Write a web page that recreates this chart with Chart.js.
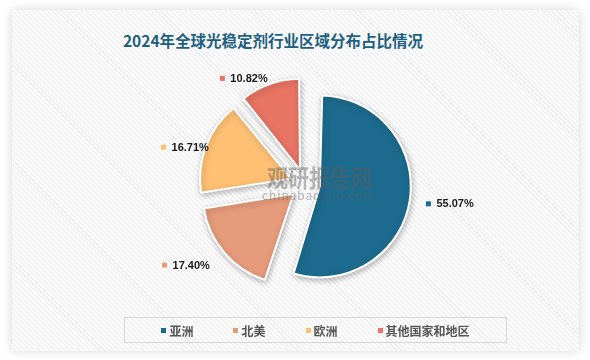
<!DOCTYPE html>
<html>
<head>
<meta charset="utf-8">
<script src="https://cdn.jsdelivr.net/npm/chart.js@4.4.1/dist/chart.umd.min.js"></script>
<style>
body { margin: 0; background: #fff; font-family: "Noto Sans CJK SC", "Noto Sans", sans-serif; }
.wrap { position: relative; width: 590px; height: 360px; overflow: hidden; }
.card {
    position: absolute; left: 12px; top: 10px; width: 567px; height: 341px;
    background: repeating-linear-gradient(45deg, #ffffff 0px, #ffffff 2px, #efefef 2px, #efefef 3.5px);
    box-shadow: 0 0 10px rgba(0,0,0,0.16);
}
.title {
    position: absolute; left: 0; width: 546px; top: 29px; text-align: center;
    font-size: 15.5px; font-weight: bold; color: #1d5f7f; line-height: 22px;
}
.legend {
    position: absolute; left: 124px; top: 317px; width: 381px; height: 24px;
    border: 1px solid #d6d6d6; display: flex; justify-content: center; align-items: center; gap: 40px;
    font-size: 12px; font-weight: bold; color: #555;
}
.legend span.item { display: flex; align-items: center; }
.legend i { display: inline-block; width: 5px; height: 5px; margin-right: 3px; }
.wm { position: absolute; color: rgba(95,95,95,0.45); font-weight: bold; white-space: nowrap; }
#c { position: absolute; left: 0; top: 0; }
</style>
</head>
<body>
<div class="wrap">
    <div class="card"></div>
    <div class="title" id="title"></div>
    <canvas id="c" width="590" height="360"></canvas>
    <div class="wm" style="left:267px; top:159px; font-size:21px; transform:scaleY(1.15); transform-origin:left top;">观研报告网</div>
    <div class="wm" style="left:262px; top:186px; font-size:12px; font-weight:normal; letter-spacing:0.9px;">chinabaogao.com</div>
    <div class="legend" id="legend"></div>
</div>

<script>
// ===== DATA =====
const titleText = '2024年全球光稳定剂行业区域分布占比情况';
const regions = ['亚洲', '北美', '欧洲', '其他国家和地区'];
const shares = [55.07, 17.40, 16.71, 10.82];

// ===== STYLE =====
const sliceColors = ['#1c6b8e', '#e69b7b', '#fec174', '#e87464'];
const pieRadius = 91;
const explodePx = 15;              // how far each slice is pulled out
const labelRadius = [125, 125, 103, 112];

document.getElementById('title').textContent = titleText;

// legend in html (it has a box round it)
document.getElementById('legend').innerHTML = regions.map((r, i) =>
    `<span class="item"><i style="background:${sliceColors[i]}"></i>${r}</span>`
).join('');

const total = shares.reduce((a, b) => a + b, 0);

const pieLabels = {
    id: 'pieLabels',
    beforeDatasetsDraw(chart) {
        // chart.js also grows an arc by offset/4*fix, take that back so all slices keep one radius
        chart.getDatasetMeta(0).data.forEach((arc, i) => {
            const circ = shares[i] / total * Math.PI * 2;
            const fix = 1 - Math.sin(Math.min(Math.PI, circ));
            arc.outerRadius = pieRadius - explodePx * fix;
        });
        const ctx = chart.ctx;
        ctx.save();
        ctx.shadowColor = 'rgba(0,0,0,0.28)';
        ctx.shadowBlur = 6;
        ctx.shadowOffsetX = 1;
        ctx.shadowOffsetY = 2;
    },
    afterDatasetsDraw(chart) {
        const ctx = chart.ctx;
        ctx.restore();
        const arcs = chart.getDatasetMeta(0).data;
        ctx.save();
        ctx.font = 'bold 11px "Liberation Sans", Arial, sans-serif';
        ctx.textBaseline = 'middle';
        arcs.forEach((arc, i) => {
            const p = arc.getProps(['x', 'y', 'startAngle', 'endAngle']);
            const mid = (p.startAngle + p.endAngle) / 2;
            const ax = p.x + Math.cos(mid) * labelRadius[i];
            const ay = p.y + Math.sin(mid) * labelRadius[i];
            const txt = shares[i].toFixed(2) + '%';
            const w = ctx.measureText(txt).width;
            let sx = ax, tx = ax + 8;
            if (Math.cos(mid) < 0) {
                tx = ax - w;
                sx = tx - 8;
            }
            ctx.fillStyle = sliceColors[i];
            ctx.fillRect(sx - 2.5, ay - 2.5, 5, 5);
            ctx.fillStyle = '#1a1a1a';
            ctx.textAlign = 'left';
            ctx.fillText(txt, tx, ay + 0.5);
        });
        ctx.restore();
    }
};

new Chart(document.getElementById('c'), {
    type: 'pie',
    data: {
        labels: regions,
        datasets: [{
            data: shares,
            backgroundColor: sliceColors,
            borderColor: '#ffffff',
            borderWidth: 2,
            offset: explodePx * 4,   // arc moves by offset/4
            hoverOffset: 0
        }]
    },
    options: {
        responsive: false,
        animation: false,
        radius: pieRadius,
        layout: {
            padding: { left: 30, right: 10, top: 30, bottom: 22 }
        },
        plugins: {
            legend: { display: false },
            tooltip: { enabled: false }
        }
    },
    plugins: [pieLabels]
});
</script>
</body>
</html>
